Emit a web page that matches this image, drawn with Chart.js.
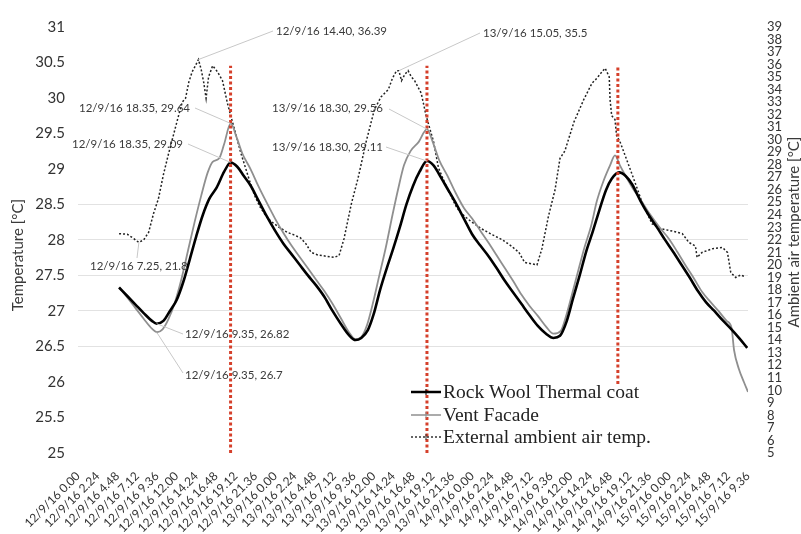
<!DOCTYPE html>
<html>
<head>
<meta charset="utf-8">
<script src="https://cdn.jsdelivr.net/npm/chart.js@4.4.1/dist/chart.umd.min.js"></script>
<style>
    html, body { margin: 0; padding: 0; background: #fff; }
    #wrap { width: 801px; height: 534px; }
</style>
</head>
<body>
<div id="wrap"><canvas id="chart" width="801" height="534"></canvas></div>
<script>
// ─────────────────────────────────────────
//  DATA (hours since 12/9/16 0.00)
// ─────────────────────────────────────────
const xTickLabels = [
    '12/9/16 0.00', '12/9/16 2.24', '12/9/16 4.48', '12/9/16 7.12', '12/9/16 9.36',
    '12/9/16 12.00', '12/9/16 14.24', '12/9/16 16.48', '12/9/16 19.12', '12/9/16 21.36',
    '13/9/16 0.00', '13/9/16 2.24', '13/9/16 4.48', '13/9/16 7.12', '13/9/16 9.36',
    '13/9/16 12.00', '13/9/16 14.24', '13/9/16 16.48', '13/9/16 19.12', '13/9/16 21.36',
    '14/9/16 0.00', '14/9/16 2.24', '14/9/16 4.48', '14/9/16 7.12', '14/9/16 9.36',
    '14/9/16 12.00', '14/9/16 14.24', '14/9/16 16.48', '14/9/16 19.12', '14/9/16 21.36',
    '15/9/16 0.00', '15/9/16 2.24', '15/9/16 4.48', '15/9/16 7.12', '15/9/16 9.36'
];
const xTickStep = 2.4;
const leftTicks = [25, 25.5, 26, 26.5, 27, 27.5, 28, 28.5, 29, 29.5, 30, 30.5, 31];
const rightTicks = [5, 6, 7, 8, 9, 10, 11, 12, 13, 14, 15, 16, 17, 18, 19, 20, 21, 22,
    23, 24, 25, 26, 27, 28, 29, 30, 31, 32, 33, 34, 35, 36, 37, 38, 39];
// gridlines that show in the picture
const gridValues = [26.5, 27, 27.5, 28, 28.5];

const rockHours = [5, 6, 7, 8, 9, 9.6, 10.4, 11.2, 12, 12.8, 13.6, 14.4, 15.2, 16, 16.9, 17.8, 18.6,
    19.4, 20.2, 21, 22, 23, 24, 25, 26, 27, 28, 29, 30, 31, 32, 33, 33.8, 34.5, 35.3, 36, 36.8,
    37.6, 38.4, 39.2, 40, 40.8, 41.6, 42.5, 43.3, 44, 45, 46, 47, 48, 49, 50, 51, 52, 53, 54, 55,
    56, 57, 57.9, 58.7, 59.5, 60.3, 61.1, 61.9, 62.7, 63.5, 64.3, 65, 65.9, 66.7, 67.5, 68.5,
    69.5, 70.5, 71.5, 72.5, 73.5, 74.5, 75.5, 76.5, 77.5, 78.5, 79.5, 80.5, 81.5];
const rockTemp = [27.33, 27.21, 27.09, 26.97, 26.86, 26.82, 26.86, 27.0, 27.15, 27.4, 27.72, 28.05,
    28.35, 28.58, 28.74, 28.96, 29.09, 29.03, 28.9, 28.77, 28.55, 28.33, 28.13, 27.95, 27.8, 27.65,
    27.5, 27.36, 27.2, 27.0, 26.82, 26.66, 26.59, 26.62, 26.73, 26.95, 27.3, 27.6, 27.88, 28.18,
    28.5, 28.76, 28.96, 29.11, 29.05, 28.92, 28.72, 28.52, 28.3, 28.08, 27.92, 27.77, 27.6, 27.42,
    27.26, 27.1, 26.94, 26.79, 26.68, 26.62, 26.65, 26.85, 27.18, 27.5, 27.84, 28.12, 28.42, 28.7,
    28.86, 28.95, 28.9, 28.78, 28.55, 28.35, 28.18, 28.0, 27.83, 27.65, 27.47, 27.28, 27.12, 27.0,
    26.87, 26.75, 26.62, 26.48];

const ventHours = [5, 6, 7, 8, 9, 9.6, 10.3, 11, 11.8, 12.6, 13.4, 14.2, 15, 15.8, 16.4, 17.2, 17.8,
    18.6, 19.3, 20, 21, 22, 23, 24, 25, 26, 27, 28, 29, 30, 31, 32, 33, 33.8, 34.5, 35.2, 35.9,
    36.7, 37.5, 38.3, 39, 39.7, 40.5, 41.5, 42.5, 43.2, 44, 45, 46, 47, 48, 49, 50, 51, 52, 53, 54,
    55, 56, 57, 57.9, 58.8, 59.5, 60.2, 61, 61.7, 62.5, 63.2, 64, 64.8, 65.4, 66, 66.8, 67.6, 68.6,
    69.6, 70.8, 72, 73, 74, 75, 76, 77, 78, 79, 79.6, 79.9, 80.5, 81.1, 81.6];
const ventTemp = [27.33, 27.19, 27.04, 26.89, 26.75, 26.7, 26.74, 26.88, 27.12, 27.45, 27.85, 28.25,
    28.62, 28.95, 29.1, 29.15, 29.35, 29.64, 29.45, 29.22, 29.0, 28.75, 28.52, 28.3, 28.1, 27.92,
    27.76, 27.6, 27.44, 27.28, 27.1, 26.9, 26.7, 26.6, 26.63, 26.8, 27.1, 27.5, 27.9, 28.35, 28.72,
    29.05, 29.25, 29.38, 29.56, 29.38, 29.12, 28.9, 28.66, 28.45, 28.3, 28.13, 27.96, 27.78, 27.6,
    27.42, 27.23, 27.07, 26.93, 26.78, 26.68, 26.72, 26.95, 27.25, 27.6, 27.9, 28.2, 28.55, 28.83,
    29.05, 29.19, 29.05, 28.88, 28.72, 28.55, 28.37, 28.18, 28.01, 27.83, 27.64, 27.46, 27.27,
    27.13, 27.0, 26.86, 26.76, 26.45, 26.18, 26.0, 25.86];

const airHours = [5, 6, 6.8, 7.4, 8, 8.6, 9.2, 9.8, 10.4, 11, 11.6, 12.2, 12.7, 13.1, 13.5, 13.9,
    14.3, 14.67, 15, 15.3, 15.6, 15.9, 16.4, 17, 17.6, 18.2, 18.6, 19.2, 19.8, 20.4, 21, 21.6, 22.2,
    22.9, 23.5, 24.5, 25.5, 26.3, 27.1, 27.75, 28.4, 29.2, 30.2, 31.2, 31.8, 32.4, 33.3, 34.1, 35.1,
    36.1, 36.9, 37.8, 38.3, 38.8, 39.08, 39.4, 39.8, 40.2, 40.6, 41, 41.8, 42.4, 43.3, 43.9, 44.9,
    46.1, 46.7, 47.8, 49.1, 50.5, 51.7, 52.8, 53.7, 54.4, 55.2, 55.9, 56.5, 57.3, 58.1, 58.7, 59.3,
    60.4, 61.6, 62.6, 63.2, 63.8, 64.2, 64.7, 64.8, 65, 65.4, 65.6, 66, 66.6, 67.5, 68.7, 69.9,
    70.9, 72.4, 73.6, 74.4, 75.2, 75.4, 76, 77.3, 78.5, 79.1, 79.5, 80.1, 80.7, 81.3];
const airTemp = [22.5, 22.45, 22.1, 21.8, 22.0, 22.6, 24.1, 25.3, 27.2, 28.8, 30.3, 31.8, 33.0,
    33.3, 34.6, 35.4, 35.9, 36.39, 35.6, 34.6, 33.3, 35.0, 35.9, 35.4, 34.7, 32.9, 31.9, 30.5, 29.0,
    27.75, 26.5, 25.4, 24.6, 23.9, 23.48, 23.0, 22.6, 22.4, 22.16, 21.7, 21.0, 20.8, 20.7, 20.6,
    20.76, 22.1, 24.9, 26.9, 29.85, 32.4, 33.4, 34.0, 34.9, 35.5, 35.5, 34.7, 35.2, 35.5, 35.0,
    34.7, 33.7, 31.9, 29.85, 27.75, 26.2, 24.6, 24.1, 23.5, 22.9, 22.4, 22.0, 21.5, 21.0, 20.2,
    20.1, 20.0, 21.3, 23.9, 26.0, 28.5, 29.1, 31.4, 33.2, 34.5, 34.9, 35.4, 35.7, 35.0, 33.2, 31.9,
    31.6, 30.3, 29.85, 28.8, 27.2, 25.0, 23.3, 22.9, 22.7, 22.5, 21.8, 21.5, 20.6, 21.0, 21.3,
    21.4, 21.0, 19.4, 19.0, 19.2, 19.05];

// red dotted marker lines (hour, top and bottom on the left axis)
const markerHours = [18.583, 42.5, 65.75];
const markerTop = [30.45, 30.45, 30.45];
const markerBottom = [25, 25, 25.97];

// data labels
const noteTexts = ['12/9/16 14.40, 36.39', '13/9/16 15.05, 35.5', '12/9/16 18.35, 29.64',
    '12/9/16 18.35, 29.09', '13/9/16 18.30, 29.56', '13/9/16 18.30, 29.11', '12/9/16 7.25, 21.8',
    '12/9/16 9.35, 26.82', '12/9/16 9.35, 26.7'];
const noteHours = [14.67, 39.08, 18.583, 18.583, 42.5, 42.5, 7.417, 9.583, 9.583];
const noteValues = [36.39, 35.5, 29.64, 29.09, 29.56, 29.11, 21.8, 26.82, 26.7];
const noteAxes = ['y2', 'y2', 'y', 'y', 'y', 'y', 'y2', 'y', 'y'];

const seriesNames = ['Rock Wool Thermal coat', 'Vent Facade', 'External ambient air temp.'];

// ─────────────────────────────────────────
//  LAYOUT (pixels)
// ─────────────────────────────────────────
const notePos = [
    { tx: 276, ty: 31, lx: 273, ly: 31 },
    { tx: 483, ty: 33, lx: 480, ly: 33 },
    { tx: 79, ty: 108, lx: 195, ly: 108 },
    { tx: 72, ty: 144, lx: 188, ly: 144 },
    { tx: 272, ty: 108, lx: 389, ly: 109 },
    { tx: 272, ty: 147, lx: 386, ly: 147 },
    { tx: 90, ty: 266, lx: 137, ly: 258 },
    { tx: 185, ty: 334, lx: 183, ly: 334 },
    { tx: 185, ty: 375, lx: 183, ly: 373 }
];

function pairs(xs, ys) {
    return xs.map((x, i) => ({ x: x, y: ys[i] }));
}

const markerSets = markerHours.map((h, i) => ({
    data: [{ x: h, y: markerBottom[i] }, { x: h, y: markerTop[i] }],
    borderColor: '#d5402b',
    borderWidth: 3,
    borderDash: [3, 2.5],
    pointRadius: 0,
    yAxisID: 'y',
    order: 0
}));

// ─────────────────────────────────────────
//  PLUGIN: titles, legend, data labels
// ─────────────────────────────────────────
const overlay = {
    id: 'overlay',
    afterDatasetsDraw(chart) {
        const ctx = chart.ctx;
        const sx = chart.scales.x;
        ctx.save();

        // data labels + leader lines
        ctx.font = '11.5px Lato';
        ctx.fillStyle = '#3a3a3a';
        ctx.textBaseline = 'middle';
        ctx.textAlign = 'left';
        noteTexts.forEach((t, i) => {
            const ax = sx.getPixelForValue(noteHours[i]);
            const ay = chart.scales[noteAxes[i]].getPixelForValue(noteValues[i]);
            const p = notePos[i];
            ctx.strokeStyle = '#c8c8c8';
            ctx.lineWidth = 1;
            ctx.beginPath();
            ctx.moveTo(ax, ay);
            ctx.lineTo(p.lx, p.ly);
            ctx.stroke();
            ctx.fillText(t, p.tx, p.ty);
        });

        // axis titles
        ctx.font = '15px Lato';
        ctx.fillStyle = '#3a3a3a';
        ctx.textAlign = 'center';
        ctx.save();
        ctx.translate(18, 255);
        ctx.rotate(-Math.PI / 2);
        ctx.fillText('Temperature [°C]', 0, 0);
        ctx.restore();
        ctx.save();
        ctx.translate(794, 232);
        ctx.rotate(-Math.PI / 2);
        ctx.fillText('Ambient air temperature [°C]', 0, 0);
        ctx.restore();

        // legend
        const rows = [392, 415, 437];
        const styles = [
            { color: '#000', width: 2.5, dash: [] },
            { color: '#8f8f8f', width: 1.5, dash: [] },
            { color: '#333', width: 1.5, dash: [2, 2] }
        ];
        ctx.font = '19.5px "Liberation Serif"';
        ctx.fillStyle = '#222';
        ctx.textAlign = 'left';
        seriesNames.forEach((name, i) => {
            const y = rows[i];
            const s = styles[i];
            ctx.strokeStyle = s.color;
            ctx.lineWidth = s.width;
            ctx.setLineDash(s.dash);
            ctx.beginPath();
            ctx.moveTo(411, y);
            ctx.lineTo(441, y);
            ctx.stroke();
            ctx.setLineDash([]);
            ctx.lineWidth = 1;
            ctx.beginPath();
            ctx.moveTo(426, y - 3);
            ctx.lineTo(426, y + 3);
            ctx.stroke();
            ctx.fillText(name, 443, y + 1);
        });
        ctx.restore();
    }
};

// ─────────────────────────────────────────
//  CHART
// ─────────────────────────────────────────
new Chart(document.getElementById('chart'), {
    type: 'line',
    data: {
        datasets: markerSets.concat([
            {
                label: seriesNames[0],
                data: pairs(rockHours, rockTemp),
                borderColor: '#000',
                borderWidth: 2.6,
                pointRadius: 0,
                cubicInterpolationMode: 'monotone',
                yAxisID: 'y',
                order: 1
            },
            {
                label: seriesNames[1],
                data: pairs(ventHours, ventTemp),
                borderColor: '#8f8f8f',
                borderWidth: 1.8,
                pointRadius: 0,
                cubicInterpolationMode: 'monotone',
                yAxisID: 'y',
                order: 2
            },
            {
                label: seriesNames[2],
                data: pairs(airHours, airTemp),
                borderColor: '#222',
                borderWidth: 1.5,
                borderDash: [2, 2],
                pointRadius: 0,
                tension: 0,
                yAxisID: 'y2',
                order: 3
            }
        ])
    },
    options: {
        responsive: false,
        animation: false,
        devicePixelRatio: 1,
        layout: { padding: { top: 15, left: 0, right: 0, bottom: 0 } },
        plugins: { legend: { display: false }, tooltip: { enabled: false } },
        scales: {
            x: {
                type: 'linear',
                min: 0,
                max: (xTickLabels.length - 1) * xTickStep,
                afterBuildTicks: s => { s.ticks = xTickLabels.map((l, i) => ({ value: i * xTickStep })); },
                afterFit: s => { s.height = 81; },
                grid: { display: false },
                border: { display: false },
                ticks: {
                    autoSkip: false,
                    minRotation: 45,
                    maxRotation: 45,
                    padding: 8,
                    color: '#333',
                    font: { family: 'Lato', size: 12 },
                    callback: (v, i) => xTickLabels[i]
                }
            },
            y: {
                position: 'left',
                min: 25,
                max: 31,
                afterBuildTicks: s => { s.ticks = leftTicks.map(v => ({ value: v })); },
                afterFit: s => { s.width = 78; },
                border: { display: false },
                grid: {
                    drawTicks: false,
                    color: c => gridValues.includes(c.tick.value) ? '#e2e2e2' : 'rgba(0,0,0,0)'
                },
                ticks: {
                    padding: 13,
                    color: '#333',
                    font: { family: 'Lato', size: 15 },
                    callback: v => String(v)
                }
            },
            y2: {
                position: 'right',
                min: 5,
                max: 39,
                afterBuildTicks: s => { s.ticks = rightTicks.map(v => ({ value: v })); },
                afterFit: s => { s.width = 53; },
                border: { display: false },
                grid: { display: false, drawTicks: false },
                ticks: {
                    autoSkip: false,
                    padding: 19,
                    color: '#333',
                    font: { family: 'Lato', size: 13 },
                    callback: v => String(v)
                }
            }
        }
    },
    plugins: [overlay]
});
</script>
</body>
</html>
